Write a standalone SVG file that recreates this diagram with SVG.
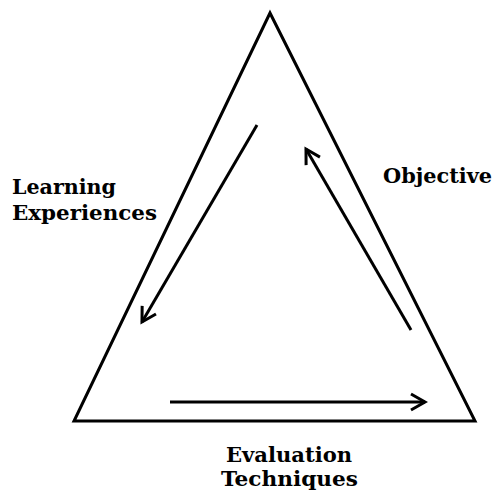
<svg xmlns="http://www.w3.org/2000/svg" width="496" height="491" viewBox="0 0 496 491">
<style>
.lbl{font-family:"DejaVu Serif","Liberation Serif",serif;font-weight:bold;font-size:21px;fill:#000}
.ln{stroke:#000;stroke-width:3;fill:none}
</style>
<defs>
<marker id="ah2" viewBox="0 0 20 20" refX="17" refY="10" markerWidth="20" markerHeight="20" markerUnits="userSpaceOnUse" orient="auto">
<path d="M3,2 L17,10 L3,18" fill="none" stroke="#000" stroke-width="3"/>
</marker>
</defs>
<g id="triangle"><polygon class="ln" points="270,13 74,421 475,421"/></g>
<g id="connectors">
<line class="ln" x1="257" y1="125" x2="142" y2="322" marker-end="url(#ah2)"/>
<line class="ln" x1="411" y1="330" x2="306" y2="149" marker-end="url(#ah2)"/>
<line class="ln" x1="170" y1="402" x2="425" y2="402" marker-end="url(#ah2)"/>
</g>
<g id="learning"><text class="lbl" x="12" y="194" textLength="104" lengthAdjust="spacingAndGlyphs">Learning</text><text class="lbl" x="12" y="220" textLength="145" lengthAdjust="spacingAndGlyphs">Experiences</text></g>
<g id="objective"><text class="lbl" x="383" y="183" textLength="109" lengthAdjust="spacingAndGlyphs">Objective</text></g>
<g id="evaluation"><text class="lbl" x="226" y="462" textLength="126" lengthAdjust="spacingAndGlyphs">Evaluation</text><text class="lbl" x="221" y="486" textLength="137" lengthAdjust="spacingAndGlyphs">Techniques</text></g>
</svg>
